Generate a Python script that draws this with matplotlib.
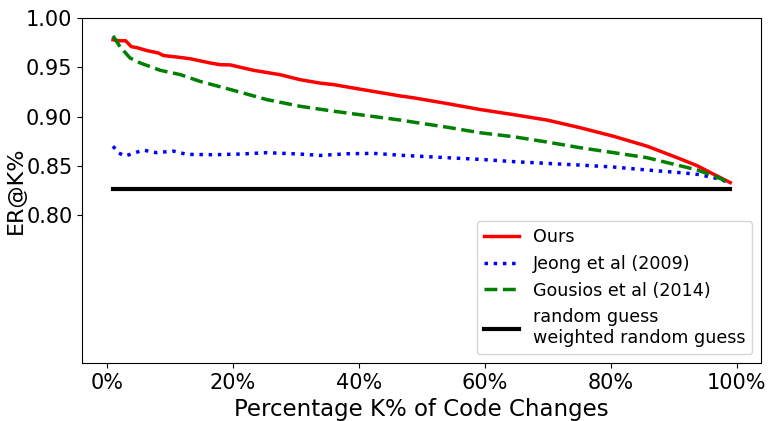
import matplotlib
matplotlib.use("Agg")
import matplotlib.pyplot as plt
from matplotlib.ticker import PercentFormatter

# Ours
x_ours = [1, 2, 3, 3.9, 4.8, 6.4, 8.2, 9, 11.1, 13.2, 16.4, 18, 19.6, 23.3, 27.5,
          30.7, 33.9, 36, 41.3, 46.6, 48.8, 54, 59.3, 64.6, 70, 75.2, 80.5,
          85.8, 91.1, 93.8, 96.4, 99]
ours = [0.978, 0.977, 0.977, 0.971, 0.970, 0.967, 0.9646, 0.962, 0.9605, 0.9588,
        0.9545, 0.9527, 0.9525, 0.947, 0.9426, 0.9375, 0.934, 0.9325, 0.9267,
        0.921, 0.919, 0.9133, 0.9072, 0.902, 0.8964, 0.8887, 0.880, 0.870,
        0.857, 0.850, 0.8414, 0.833]

# Jeong et al (2009)
x_jeong = [1, 1.8, 2.9, 4.2, 5.8, 7.9, 10.6, 12.7, 17, 21.2, 25.4, 30.7, 33.9,
           38.2, 42.4, 46.6, 54, 59.3, 64.6, 70, 75.2, 80.5, 85.8, 91.1, 93.8,
           96.4, 99]
jeong = [0.870, 0.8634, 0.860, 0.8627, 0.866, 0.8634, 0.865, 0.8617, 0.8613,
         0.862, 0.8634, 0.862, 0.8606, 0.8623, 0.8627, 0.8608, 0.8583, 0.8566,
         0.8543, 0.8525, 0.8508, 0.8488, 0.8458, 0.8431, 0.8414, 0.838, 0.833]

# Gousios et al (2014)
x_gousios = [1, 2.1, 3.7, 5.3, 8.5, 11.7, 14.8, 20.1, 25.4, 30.7, 36, 41.3,
             46.6, 48.8, 54, 59.3, 64.6, 70, 75.2, 80.5, 85.8, 91.1, 93.8,
             96.4, 99]
gousios = [0.982, 0.971, 0.9595, 0.9545, 0.947, 0.9426, 0.9358, 0.9267, 0.9173,
           0.9105, 0.9055, 0.901, 0.8965, 0.8943, 0.8893, 0.8836, 0.8796,
           0.8741, 0.8684, 0.8634, 0.8583, 0.850, 0.8458, 0.8397, 0.833]

# random guess / weighted random guess
x_random = [1, 99]
random_guess = [0.827, 0.827]

fig, ax = plt.subplots(figsize=(7.68, 4.21), dpi=100)
ax.plot(x_ours, ours, color="red", linestyle="-", linewidth=2.5, label="Ours")
ax.plot(x_jeong, jeong, color="blue", linestyle=":", linewidth=2.5,
        label="Jeong et al (2009)")
ax.plot(x_gousios, gousios, color="green", linestyle="--", linewidth=2.5,
        label="Gousios et al (2014)")
ax.plot(x_random, random_guess, color="black", linestyle="-", linewidth=3,
        label="random guess\nweighted random guess")

ax.set_ylim(0.65, 1.0)
ax.set_yticks([0.80, 0.85, 0.90, 0.95, 1.00])
ax.set_xticks([0, 20, 40, 60, 80, 100])
ax.xaxis.set_major_formatter(PercentFormatter(decimals=0))
ax.tick_params(labelsize=15)
ax.set_xlabel("Percentage K% of Code Changes", fontsize=16.5)
ax.set_ylabel("ER@K%", fontsize=16, labelpad=0)
ax.legend(loc="lower right", fontsize=12.6)

fig.subplots_adjust(left=0.107, right=0.991, top=0.957, bottom=0.138)
fig.savefig("out.png")
